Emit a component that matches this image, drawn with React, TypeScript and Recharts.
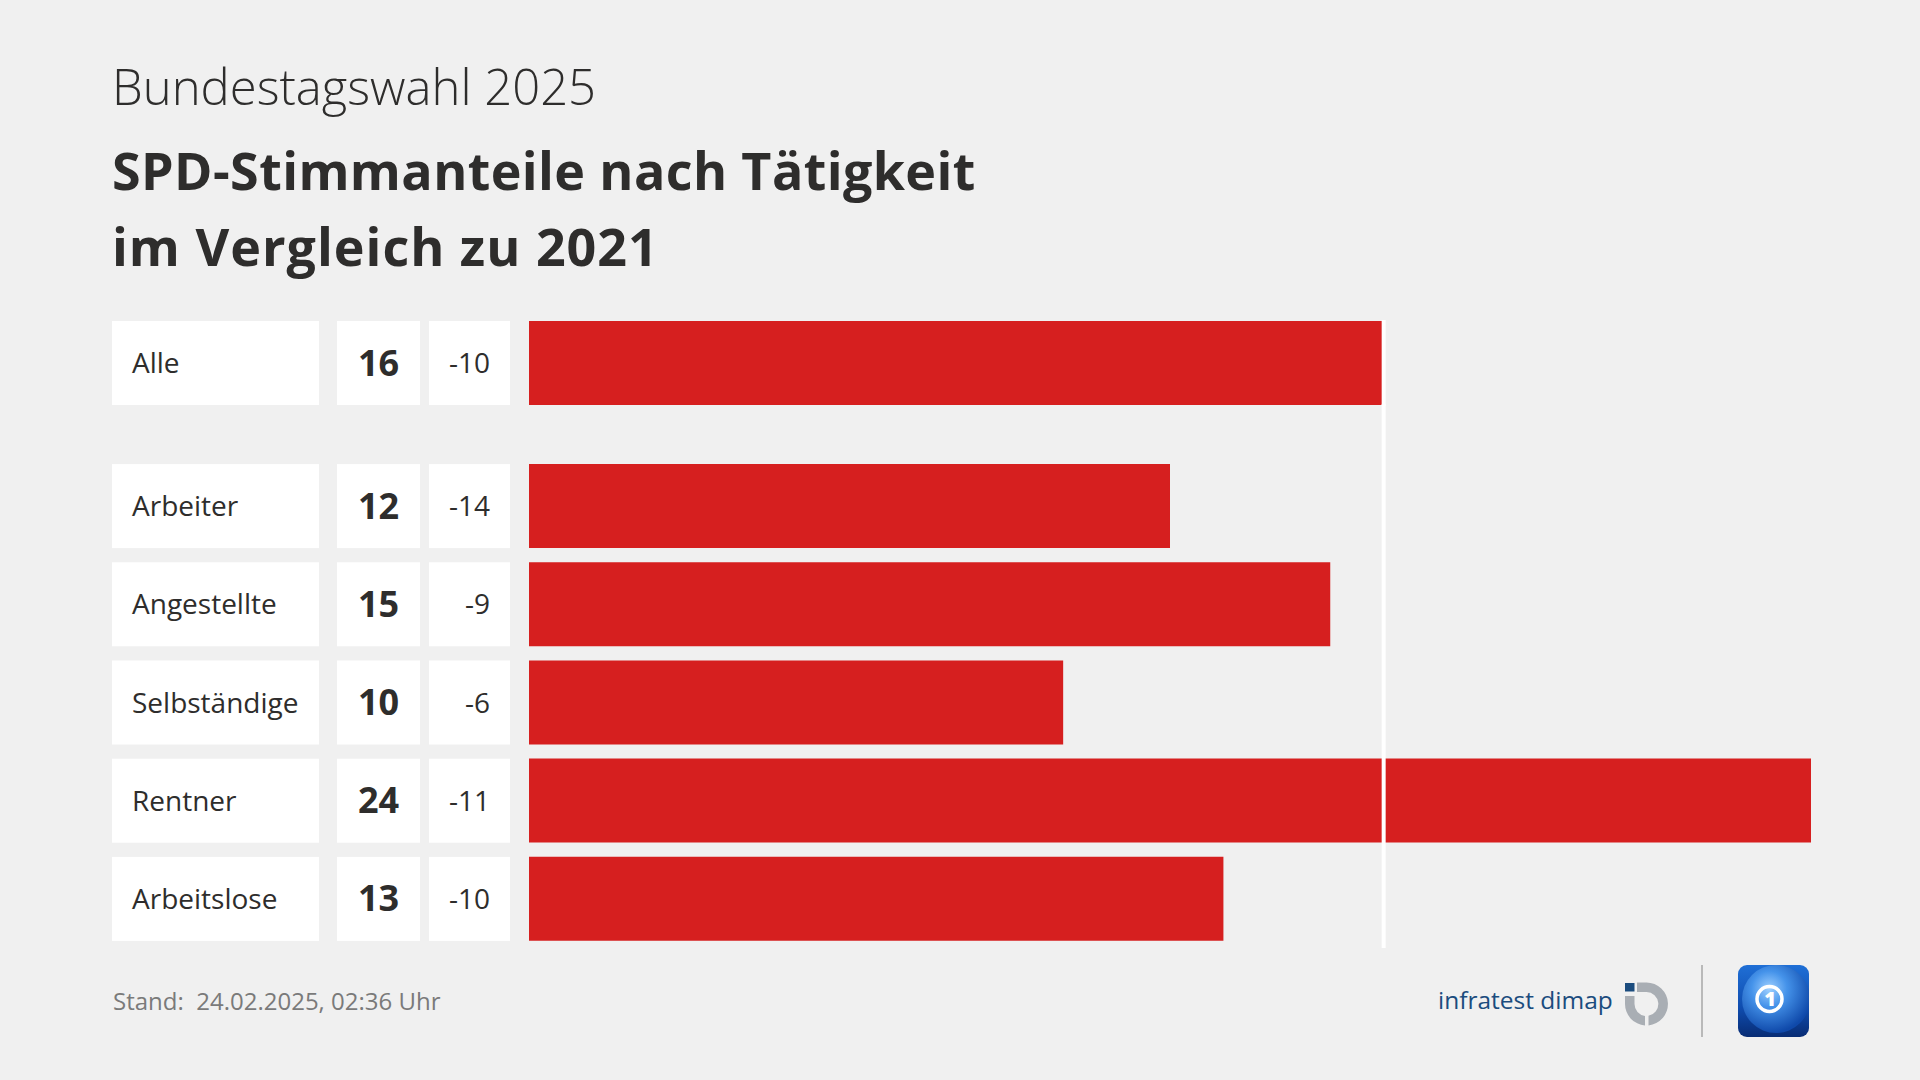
import React from "react";
import { BarChart, Bar, XAxis, YAxis, ReferenceLine } from "recharts";

// ---- data ----
const topCategories = ["Alle"];
const topValues = [16];
const topDiffs = [-10];

const groupCategories = ["Arbeiter", "Angestellte", "Selbständige", "Rentner", "Arbeitslose"];
const groupValues = [12, 15, 10, 24, 13];
const groupDiffs = [-14, -9, -6, -11, -10];

const axisDomain = [0, 24];
const referenceValue = 16;

const titleSub = "Bundestagswahl 2025";
const titleLine1 = "SPD-Stimmanteile nach Tätigkeit";
const titleLine2 = "im Vergleich zu 2021";
const footerText = "Stand:  24.02.2025, 02:36 Uhr";

// ---- styles ----
const FONT = "'Open Sans', 'Noto Sans', sans-serif";
const BG = "#f0f0f0";
const RED = "#d61f1f";
const TEXT = "#2e2d2c";

const topData = topCategories.map((c, i) => ({ name: c, value: topValues[i], diff: topDiffs[i] }));
const groupData = groupCategories.map((c, i) => ({ name: c, value: groupValues[i], diff: groupDiffs[i] }));
const lookup: Record<string, { value: number; diff: number }> = {};
[...topData, ...groupData].forEach((d) => {
  lookup[d.name] = { value: d.value, diff: d.diff };
});

const BOX_H = 84;

function RowTick(props: any) {
  const { x, y, payload } = props;
  const name = payload.value as string;
  const info = lookup[name];
  const top = y - BOX_H / 2;
  return (
    <g>
      <rect x={x - 417} y={top} width={207} height={BOX_H} fill="#ffffff" />
      <rect x={x - 192} y={top} width={83} height={BOX_H} fill="#ffffff" />
      <rect x={x - 100} y={top} width={81} height={BOX_H} fill="#ffffff" />
      <text x={x - 397} y={y + 10} fontFamily={FONT} fontSize={28} fill={TEXT}>
        {name}
      </text>
      <text x={x - 150.5} y={y + 12.5} fontFamily={FONT} fontSize={36} fontWeight={700} fill={TEXT} textAnchor="middle">
        {info ? info.value : ""}
      </text>
      <text x={x - 39} y={y + 10} fontFamily={FONT} fontSize={28} fill={TEXT} textAnchor="end">
        {info ? String(info.diff) : ""}
      </text>
    </g>
  );
}

function WhiteLine(props: any) {
  const { x1, y1, x2, y2 } = props;
  return <line x1={x1} y1={y1 + 1} x2={x2} y2={y2} stroke="#ffffff" strokeWidth={4} />;
}

function Logos() {
  return (
    <svg width={1920} height={1080} style={{ position: "absolute", left: 0, top: 0, pointerEvents: "none" }}>
      <defs>
        <linearGradient id="ardGrad" x1="0" y1="0" x2="0" y2="1">
          <stop offset="0%" stopColor="#1f6fd6" />
          <stop offset="60%" stopColor="#0f4cae" />
          <stop offset="100%" stopColor="#082c74" />
        </linearGradient>
        <radialGradient id="globe" cx="0.4" cy="0.35" r="0.65">
          <stop offset="0%" stopColor="#9fd0ff" />
          <stop offset="40%" stopColor="#4593ea" />
          <stop offset="100%" stopColor="#0f49aa" />
        </radialGradient>
      </defs>
      <text x={1438} y={1009} fontFamily={FONT} fontSize={24.5} fill="#1b4c7e">
        infratest dimap
      </text>
      <rect x={1625} y={983} width={9.5} height={8.5} fill="#1b4c7e" />
      <path
        d="M 1637 982.5 L 1646.5 982.5 A 21.5 21.5 0 0 1 1648.5 1025.4 L 1648.5 1015.8 A 12 12 0 0 0 1646.5 992 L 1637 992 Z"
        fill="#a9aeb4"
      />
      <path
        d="M 1625 996 L 1634.5 996 L 1634.5 1004 A 12 12 0 0 0 1645 1015.9 L 1645 1025.4 A 21.5 21.5 0 0 1 1625 1004 Z"
        fill="#a9aeb4"
      />
      <line x1={1702} y1={965} x2={1702} y2={1037} stroke="#b9b9b9" strokeWidth={2} />
      <rect x={1738} y={965} width={71} height={72} rx={9} fill="url(#ardGrad)" />
      <clipPath id="ardClip">
        <rect x={1738} y={965} width={71} height={72} rx={9} />
      </clipPath>
      <circle cx={1776} cy={999} r={34} fill="url(#globe)" clipPath="url(#ardClip)" />
      <circle cx={1769.5} cy={999} r={12.5} fill="none" stroke="#ffffff" strokeWidth={3.5} />
      <text x={1770} y={1006} fontFamily={FONT} fontSize={20} fontWeight={800} fill="#ffffff" textAnchor="middle">
        1
      </text>
    </svg>
  );
}

export default function App() {
  const margin = { top: 0, right: 109, bottom: 0, left: 112 };
  return (
    <div
      style={{
        position: "absolute",
        left: 0,
        top: 0,
        width: 1920,
        height: 1080,
        background: BG,
        fontFamily: FONT,
        color: TEXT,
        overflow: "hidden",
      }}
    >
      <div style={{ position: "absolute", left: 112, top: 53, fontSize: 49, fontWeight: 300, lineHeight: "66px", whiteSpace: "nowrap" }}>
        {titleSub}
      </div>
      <div
        style={{
          position: "absolute",
          left: 112,
          top: 132,
          fontSize: 52,
          fontWeight: 700,
          lineHeight: "76px",
          whiteSpace: "nowrap",
        }}
      >
        <div style={{ letterSpacing: 0.4 }}>{titleLine1}</div>
        <div style={{ letterSpacing: 1 }}>{titleLine2}</div>
      </div>

      <div style={{ position: "absolute", left: 0, top: 320 }}>
        <BarChart width={1920} height={86} data={topData} layout="vertical" margin={margin}>
          <XAxis type="number" domain={axisDomain} hide />
          <YAxis
            type="category"
            dataKey="name"
            width={417}
            axisLine={false}
            tickLine={false}
            tickSize={0}
            tickMargin={0}
            tick={<RowTick />}
            interval={0}
          />
          <Bar dataKey="value" fill={RED} barSize={84} isAnimationActive={false} />
          <ReferenceLine x={referenceValue} shape={<WhiteLine />} ifOverflow="visible" />
        </BarChart>
      </div>

      <div style={{ position: "absolute", left: 0, top: 404 }}>
        <BarChart width={1920} height={544} data={groupData} layout="vertical" margin={margin}>
          <XAxis type="number" domain={axisDomain} hide />
          <YAxis
            type="category"
            dataKey="name"
            width={417}
            axisLine={false}
            tickLine={false}
            tickSize={0}
            tickMargin={0}
            tick={<RowTick />}
            interval={0}
            padding={{ top: 53, bottom: 0 }}
          />
          <Bar dataKey="value" fill={RED} barSize={84} isAnimationActive={false} />
          <ReferenceLine x={referenceValue} shape={<WhiteLine />} ifOverflow="visible" />
        </BarChart>
      </div>

      <div style={{ position: "absolute", left: 113, top: 984, fontSize: 24, color: "#7a7a7a", whiteSpace: "pre" }}>
        {footerText}
      </div>
      <Logos />
    </div>
  );
}
